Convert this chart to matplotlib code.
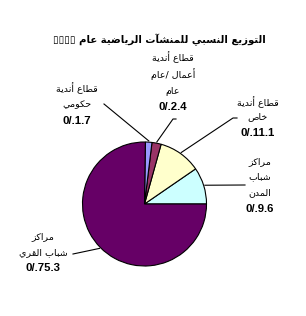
import numpy as np
import matplotlib
matplotlib.use("Agg")
import matplotlib.pyplot as plt

# ---------------- data ----------------
categories = ["مراكز شباب المدن", "قطاع أندية خاص", "قطاع أندية عام/ أعمال عام",
              "قطاع أندية حكومي", "مراكز شباب القري"]
values = [9.6, 11.1, 2.4, 1.7, 75.3]
value_labels = ["0/.9.6", "0/.11.1", "0/.2.4", "0/.1.7", "0/.75.3"]
label_lines = [
    ["مراكز", "شباب", "المدن"],
    ["قطاع أندية", "خاص"],
    ["قطاع أندية", "أعمال /عام", "عام"],
    ["قطاع أندية", "حكومي"],
    ["مراكز", "شباب القري"],
]
colors = ["#CCFFFF", "#FFFFCC", "#993366", "#9999FF", "#660066"]
title = "التوزيع النسبي للمنشآت الرياضية عام ▯▯▯▯"

# ---------------- minimal Arabic shaping ----------------
F = {
    'ء': ('\uFE80', None, None, None), 'آ': ('\uFE81', '\uFE82', None, None),
    'أ': ('\uFE83', '\uFE84', None, None), 'ؤ': ('\uFE85', '\uFE86', None, None),
    'إ': ('\uFE87', '\uFE88', None, None), 'ئ': ('\uFE89', '\uFE8A', '\uFE8B', '\uFE8C'),
    'ا': ('\uFE8D', '\uFE8E', None, None), 'ب': ('\uFE8F', '\uFE90', '\uFE91', '\uFE92'),
    'ة': ('\uFE93', '\uFE94', None, None), 'ت': ('\uFE95', '\uFE96', '\uFE97', '\uFE98'),
    'ث': ('\uFE99', '\uFE9A', '\uFE9B', '\uFE9C'), 'ج': ('\uFE9D', '\uFE9E', '\uFE9F', '\uFEA0'),
    'ح': ('\uFEA1', '\uFEA2', '\uFEA3', '\uFEA4'), 'خ': ('\uFEA5', '\uFEA6', '\uFEA7', '\uFEA8'),
    'د': ('\uFEA9', '\uFEAA', None, None), 'ذ': ('\uFEAB', '\uFEAC', None, None),
    'ر': ('\uFEAD', '\uFEAE', None, None), 'ز': ('\uFEAF', '\uFEB0', None, None),
    'س': ('\uFEB1', '\uFEB2', '\uFEB3', '\uFEB4'), 'ش': ('\uFEB5', '\uFEB6', '\uFEB7', '\uFEB8'),
    'ص': ('\uFEB9', '\uFEBA', '\uFEBB', '\uFEBC'), 'ض': ('\uFEBD', '\uFEBE', '\uFEBF', '\uFEC0'),
    'ط': ('\uFEC1', '\uFEC2', '\uFEC3', '\uFEC4'), 'ظ': ('\uFEC5', '\uFEC6', '\uFEC7', '\uFEC8'),
    'ع': ('\uFEC9', '\uFECA', '\uFECB', '\uFECC'), 'غ': ('\uFECD', '\uFECE', '\uFECF', '\uFED0'),
    'ف': ('\uFED1', '\uFED2', '\uFED3', '\uFED4'), 'ق': ('\uFED5', '\uFED6', '\uFED7', '\uFED8'),
    'ك': ('\uFED9', '\uFEDA', '\uFEDB', '\uFEDC'), 'ل': ('\uFEDD', '\uFEDE', '\uFEDF', '\uFEE0'),
    'م': ('\uFEE1', '\uFEE2', '\uFEE3', '\uFEE4'), 'ن': ('\uFEE5', '\uFEE6', '\uFEE7', '\uFEE8'),
    'ه': ('\uFEE9', '\uFEEA', '\uFEEB', '\uFEEC'), 'و': ('\uFEED', '\uFEEE', None, None),
    'ى': ('\uFEEF', '\uFEF0', None, None), 'ي': ('\uFEF1', '\uFEF2', '\uFEF3', '\uFEF4'),
}


def ar(s):
    out = []
    n = len(s)
    for i, c in enumerate(s):
        if c not in F:
            out.append(c)
            continue
        iso, fin, ini, med = F[c]
        prev = s[i - 1] if i > 0 else ''
        nxt = s[i + 1] if i < n - 1 else ''
        jp = prev in F and F[prev][2] is not None and fin is not None
        jn = nxt in F and ini is not None
        if jp and jn:
            g = med
        elif jp:
            g = fin
        elif jn:
            g = ini
        else:
            g = iso
        out.append(g)
    return ''.join(out)[::-1]


# ---------------- figure ----------------
W, H = 306, 316
fig = plt.figure(figsize=(W / 100, H / 100), dpi=100)
ax = fig.add_axes([0, 0, 1, 1])

cx, cy, R = 144.5, H - 204, 62
wedges, _ = ax.pie(values, colors=colors, startangle=0, counterclock=True,
                   center=(cx, cy), radius=R,
                   wedgeprops=dict(edgecolor="black", linewidth=0.8))
ax.set_xlim(0, W)
ax.set_ylim(0, H)
ax.set_aspect("equal")
ax.axis("off")

ar_font = dict(family="DejaVu Sans", fontsize=6.8, color="black")
num_font = dict(family="Liberation Sans", fontsize=8.2, fontweight="bold", color="black")

# label layout (pixel coords from top): x center, y of each line
layout = [
    (260, [162, 177, 193], 209),
    (258, [102, 117], 133),
    (173, [57, 74, 92], 107),
    (77, [88, 105], 121),
    (43, [237, 253], 268),
]
# leader line start points (pixel coords)
leaders = [
    [(245, 185)],
    [(237, 118), (233, 118)],
    [(176, 119), (173, 119)],
    [(104, 104)],
    [(73, 254)],
]

for i, w in enumerate(wedges):
    x, ys, ynum = layout[i]
    for line, y in zip(label_lines[i], ys):
        ax.text(x, H - y, ar(line), ha="center", va="center", **ar_font)
    ax.text(x, H - ynum, value_labels[i], ha="center", va="center", **num_font)
    mid = np.deg2rad((w.theta1 + w.theta2) / 2)
    ex, ey = cx + R * 1.02 * np.cos(mid), cy + R * 1.02 * np.sin(mid)
    pts = [(px, H - py) for px, py in leaders[i]] + [(ex, ey)]
    ax.plot([p[0] for p in pts], [p[1] for p in pts], color="black", lw=0.8)

ax.text(159, H - 40, ar(title), ha="center", va="center",
        family="DejaVu Sans", fontsize=7.3, fontweight="bold", color="black")

fig.savefig("out.png", dpi=100)
